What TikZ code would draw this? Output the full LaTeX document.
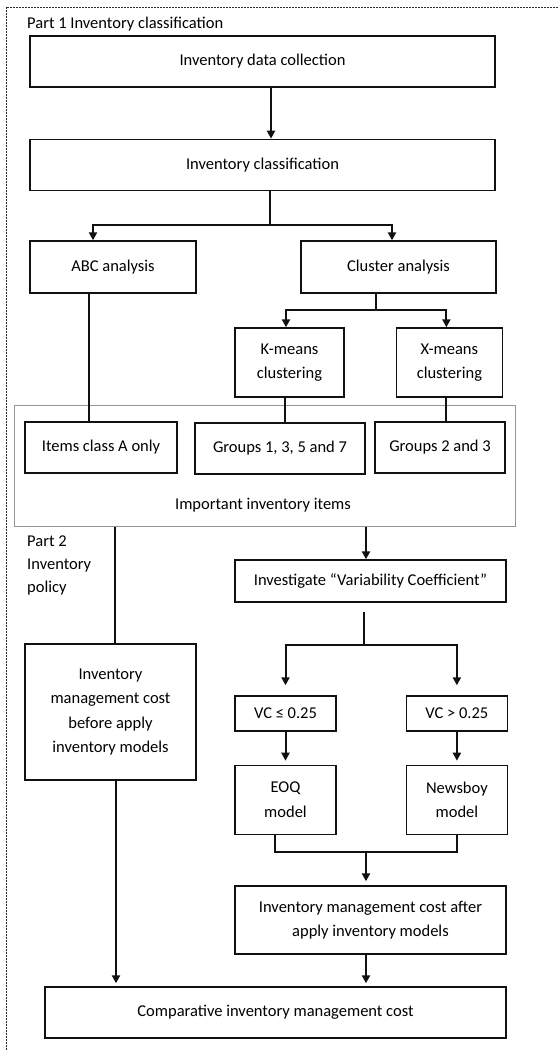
\documentclass[tikz,border=0pt]{standalone}
\usepackage{fontspec}
\setmainfont{Carlito}
\usepackage{tikz}
\usetikzlibrary{arrows.meta, positioning}
\definecolor{LineBlack}{HTML}{111111}
\definecolor{FrameGray}{HTML}{969696}
\definecolor{DashGray}{HTML}{2A2A2A}

\begin{document}
\begin{tikzpicture}[
  x=1pt, y=-1pt,
  every node/.style={font=\fontsize{16.5}{24.5}\selectfont},
  box/.style={rectangle, draw=LineBlack, line width=1.4pt, align=center, inner sep=2pt},
  group/.style={rectangle, draw=FrameGray, line width=1pt},
  arr/.style={-{Triangle[length=8pt, width=8pt]}, line width=2pt, color=LineBlack},
  link/.style={line width=2pt, color=LineBlack},
  frame/.style={draw=DashGray, line width=1pt, dash pattern=on 2pt off 1pt},
  lbl/.style={align=left, inner sep=0pt}
]
\useasboundingbox (0,0) rectangle (558,1053);

% Outer dashed frame
\draw[frame] (6,1050) -- (6,7) -- (558,7);

% Part 1
\node[lbl, anchor=base west] (part1) at (27,28) {Part 1 Inventory classification};

\node[box, minimum width=465pt, minimum height=51pt] (data) at (262.5,61.5) {Inventory data collection};
\node[box, minimum width=465pt, minimum height=51pt, below=51pt of data] (classif) {Inventory classification};

\node[box, minimum width=166pt, minimum height=52pt] (abc) at (113,267) {ABC analysis};
\node[box, minimum width=195pt, minimum height=52pt] (cluster) at (398.5,267) {Cluster analysis};

\node[box, minimum width=109pt, minimum height=69pt] (kmeans) at (289.5,362.5) {K-means\\clustering};
\node[box, minimum width=106pt, minimum height=69pt, right=51pt of kmeans] (xmeans) {X-means\\clustering};

\node[group, minimum width=501pt, minimum height=121pt] (important) at (264.5,465.5) {};
\node[anchor=base] (imptxt) at (263,509) {Important inventory items};

\node[box, minimum width=152pt, minimum height=51pt] (classA) at (101,447.5) {Items class A only};
\node[box, minimum width=170pt, minimum height=51pt] (grp1357) at (280,448.5) {Groups 1, 3, 5 and 7};
\node[box, minimum width=130pt, minimum height=51pt] (grp23) at (440,447.5) {Groups 2 and 3};

% Part 2
\node[lbl, anchor=north west, font=\fontsize{16.5}{23}\selectfont] (part2) at (27,536) {Part 2\\Inventory\\policy};

\node[box, minimum width=271pt, minimum height=42pt] (investigate) at (370.5,581) {Investigate “Variability Coefficient”};

\node[box, minimum width=171pt, minimum height=136pt] (before) at (110.5,712) {Inventory\\management cost\\before apply\\inventory models};

\node[box, minimum width=101pt, minimum height=35pt] (vcle) at (285.5,713.5) {VC ≤ 0.25};
\node[box, minimum width=101pt, minimum height=35pt, right=69pt of vcle] (vcgt) {VC > 0.25};

\node[box, minimum width=101pt, minimum height=69pt, below=33pt of vcle] (eoq) {EOQ\\model};
\node[box, minimum width=101pt, minimum height=69pt, below=33pt of vcgt] (newsboy) {Newsboy\\model};

\node[box, minimum width=271pt, minimum height=68pt] (after) at (370.5,920) {Inventory management cost after\\apply inventory models};

\node[box, minimum width=461pt, minimum height=51pt] (compare) at (275.5,1012.5) {Comparative inventory management cost};

% Arrows, part 1
\draw[arr] ([xshift=8.5pt]data.south) -- ([xshift=8.5pt]classif.north);
\draw[link] ([xshift=7.5pt]classif.south) -- ++(0,34) coordinate (fork1);
\draw[arr] (fork1) -| ([xshift=-20pt]abc.north);
\draw[arr] (fork1) -| ([xshift=-6.5pt]cluster.north);

\draw[link] ([xshift=-24pt]abc.south) -- ([xshift=-24pt]abc.south |- classA.north);

\draw[link] ([xshift=-22.5pt]cluster.south) -- ++(0,16) coordinate (fork2);
\draw[arr] (fork2) -| ([xshift=-3.5pt]kmeans.north);
\draw[arr] (fork2) -| ([xshift=-3pt]xmeans.north);

\draw[link] ([xshift=-4.5pt]kmeans.south) -- ([xshift=-4.5pt]kmeans.south |- grp1357.north);
\draw[link] ([xshift=-3pt]xmeans.south) -- ([xshift=-3pt]xmeans.south |- grp23.north);

% Arrows, part 2
\draw[link] ([xshift=4.5pt]before.north |- important.south) -- ([xshift=4.5pt]before.north);
\draw[arr] ([xshift=-4.5pt]investigate.north |- important.south) -- ([xshift=-4.5pt]investigate.north);

\draw[link] ([xshift=-6.5pt, yshift=-9pt]investigate.south) -- ++(0,33) coordinate (fork3);
\draw[arr, shorten >=10pt] (fork3) -| (vcle.north);
\draw[arr, shorten >=10pt] (fork3) -| (vcgt.north);

\draw[arr, shorten >=4pt] (vcle) -- (eoq);
\draw[arr, shorten >=4pt] (vcgt) -- (newsboy);

\draw[link] ([xshift=-10.5pt]eoq.south) -- ++(0,17) coordinate (join1) -| (newsboy.south);
\draw[arr, shorten >=4pt] ([xshift=-4.5pt]after.north |- join1) -- ([xshift=-4.5pt]after.north);

\draw[arr, shorten >=3pt] ([xshift=5.5pt]before.south) -- ([xshift=5.5pt]before.south |- compare.north);
\draw[arr, shorten >=3pt] ([xshift=-4.5pt]after.south) -- ([xshift=-4.5pt]after.south |- compare.north);

\end{tikzpicture}
\end{document}
